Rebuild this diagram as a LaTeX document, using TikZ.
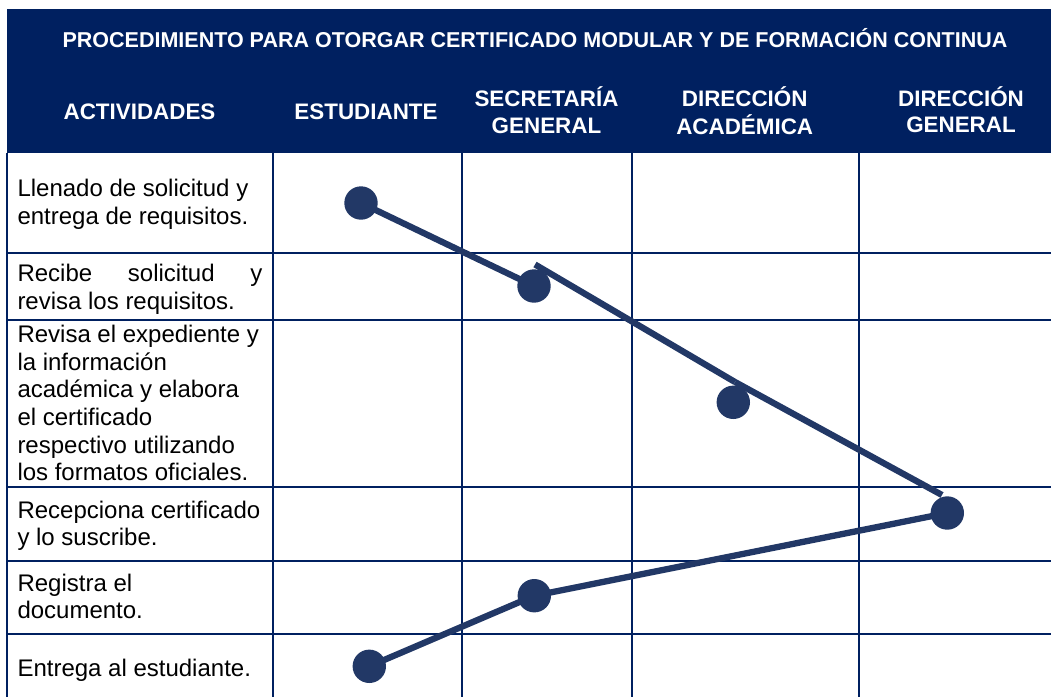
\documentclass[tikz,border=0pt]{standalone}
\usepackage{fontspec}
\setmainfont{Liberation Sans}
\usetikzlibrary{backgrounds}
\definecolor{hdrblue}{HTML}{002060}
\definecolor{dotblue}{HTML}{223866}
\tikzset{
  hdrtxt/.style={anchor=base, inner sep=0pt, text=white, font=\bfseries\fontsize{22.4}{26.6}\selectfont},
  celltxt/.style={anchor=base west, inner sep=0pt, text=black, font=\fontsize{24}{27.3}\selectfont},
  gridline/.style={draw=hdrblue, line width=2pt},
  dot/.style={circle, fill=dotblue, minimum size=33.4pt, inner sep=0pt},
  flow/.style={draw=dotblue, line width=6.3pt, line cap=butt, line join=round}
}
\newcommand{\cellpar}[1]{\parbox[t]{250pt}{\raggedright #1}}
\newcommand{\twoline}[2]{\begin{tabular}[t]{@{}c@{}}#1\\#2\end{tabular}}
\begin{document}
\begin{tikzpicture}[x=1pt, y=-1pt]
\useasboundingbox (0,0) rectangle (1051,697);
% header band
\fill[hdrblue] (7,9) rectangle (1051,152.7);
% grid
\begin{scope}[on background layer]
\foreach \xx in {7.3,272.7,461.7,631.7,859}{
  \draw[gridline] (\xx,152.7) -- (\xx,697);
}
\foreach \yy in {252.7,320,487,560.7,633.7}{
  \draw[gridline] (7.3,\yy) -- (1051,\yy);
}
\end{scope}
% header texts
\node[hdrtxt, font=\bfseries\fontsize{21.5}{25}\selectfont] (title) at (535,47.7) {PROCEDIMIENTO PARA OTORGAR CERTIFICADO MODULAR Y DE FORMACIÓN CONTINUA};
\node[hdrtxt] (hact) at (139.5,119) {ACTIVIDADES};
\node[hdrtxt] (hest) at (366,119) {ESTUDIANTE};
\node[hdrtxt] (hsec) at (546.5,106.7) {\twoline{SECRETARÍA}{GENERAL}};
\node[hdrtxt] (hdac) at (744.7,106.7) {\twoline{DIRECCIÓN}{ACADÉMICA}};
\node[hdrtxt] (hdge) at (961,106) {\twoline{DIRECCIÓN}{GENERAL}};
% activity texts
\node[celltxt] (a1) at (17.3,196.7) {\cellpar{Llenado de solicitud y\\entrega de requisitos.}};
\node[celltxt] (a2) at (17.3,281.7) {\cellpar{\makebox[245pt][s]{Recibe solicitud y}\\revisa los requisitos.}};
\node[celltxt, font=\fontsize{24}{27.6}\selectfont] (a3) at (17.3,342.7) {\cellpar{Revisa el expediente y\\la información\\académica y elabora\\el certificado\\respectivo utilizando\\los formatos oficiales.}};
\node[celltxt] (a4) at (17.3,518.3) {\cellpar{Recepciona certificado\\y lo suscribe.}};
\node[celltxt] (a5) at (17.3,591) {\cellpar{Registra el\\documento.}};
\node[celltxt] (a6) at (17.3,676.7) {\cellpar{Entrega al estudiante.}};
% dots
\node[dot] (d1) at (361,203) {};
\node[dot] (d2) at (534,286) {};
\node[dot] (d3) at (733.3,402.3) {};
\node[dot] (d4) at (947.3,513) {};
\node[dot] (d5) at (534.3,595.7) {};
\node[dot] (d6) at (369.3,666.3) {};
% connector free ends
\coordinate (s2) at (535,264.5);
\coordinate (s3) at (735,382);
\coordinate (e3) at (942,495);
% connectors
\draw[flow] (d1.center) -- (d2.center);
\draw[flow] (s2) -- (s3);
\draw[flow] (s3) -- (e3);
\draw[flow] (d4.center) -- (d5.center) -- (d6.center);
\end{tikzpicture}
\end{document}
